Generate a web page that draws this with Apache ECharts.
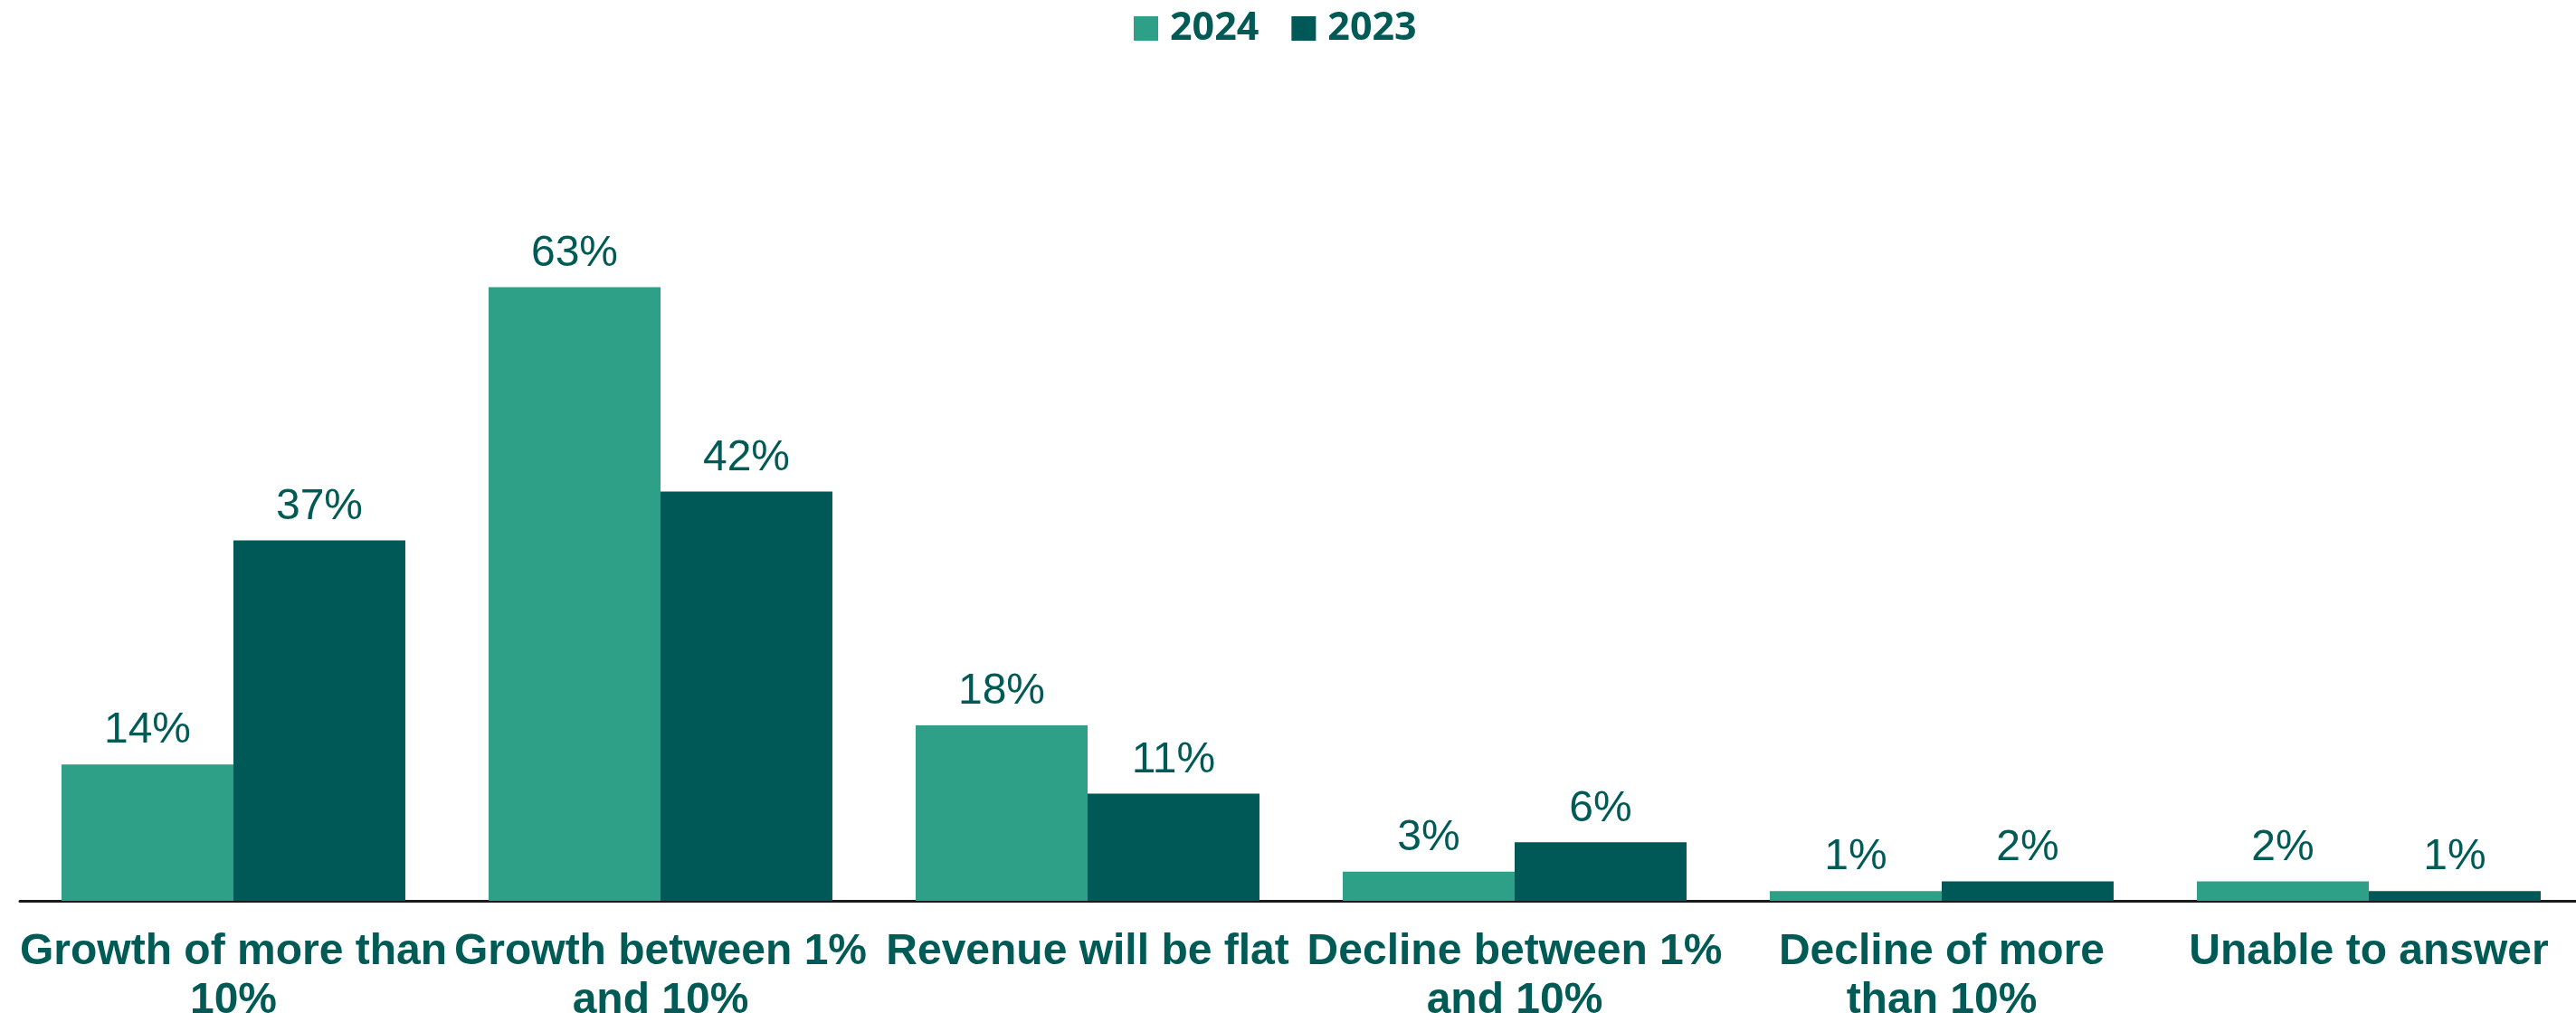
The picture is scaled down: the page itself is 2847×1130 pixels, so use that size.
<!DOCTYPE html>
<html>
<head>
<meta charset="utf-8">
<script src="https://cdn.jsdelivr.net/npm/echarts@6/dist/echarts.min.js"></script>
<style>
html,body{margin:0;padding:0;background:#fff;}
#chart{width:2847px;height:1130px;}
</style>
</head>
<body>
<div id="chart"></div>
<script>
const categories = [
  "Growth of more than\n10%",
  "Growth between 1%\nand 10%",
  "Revenue will be flat",
  "Decline between 1%\nand 10%",
  "Decline of more\nthan 10%",
  "Unable to answer"
];
const seriesNames = ["2024", "2023"];
const values2024 = [14, 63, 18, 3, 1, 2];
const values2023 = [37, 42, 11, 6, 2, 1];

const textColor = '#005a55';
const colors = ['#2ea088', '#005957'];

const chart = echarts.init(document.getElementById('chart'));
const labelStyle = {
  show: true,
  position: 'top',
  distance: 13,
  formatter: '{c}%',
  color: textColor,
  fontFamily: '"Liberation Sans", Arial, sans-serif',
  fontSize: 48,
  fontWeight: 'normal'
};
chart.setOption({
  animation: false,
  backgroundColor: '#fff',
  color: colors,
  legend: {
    top: 5,
    left: 1248,
    itemWidth: 27,
    itemHeight: 27,
    itemGap: 36,
    icon: 'rect',
    textStyle: {
      color: textColor,
      fontFamily: '"Open Sans", sans-serif',
      fontWeight: 'bold',
      fontSize: 43,
      padding: [0, 0, 0, 8]
    },
    data: seriesNames
  },
  grid: {
    left: 22,
    width: 2832,
    top: 242,
    bottom: 134,
    containLabel: false,
    outerBoundsMode: 'none'
  },
  xAxis: {
    type: 'category',
    data: categories,
    axisTick: { show: false },
    axisLine: { show: true, lineStyle: { color: '#1a1a1a', width: 3 } },
    axisLabel: {
      interval: 0,
      margin: 30,
      color: textColor,
      fontFamily: '"Liberation Sans", Arial, sans-serif',
      fontWeight: 'bold',
      fontSize: 48,
      lineHeight: 54
    }
  },
  yAxis: {
    type: 'value',
    min: 0,
    max: 70,
    interval: 10,
    show: false,
    splitLine: { show: false }
  },
  series: [
    {
      name: seriesNames[0],
      type: 'bar',
      data: values2024,
      barGap: '0%',
      barCategoryGap: '19.5%',
      itemStyle: { color: colors[0] },
      label: labelStyle
    },
    {
      name: seriesNames[1],
      type: 'bar',
      data: values2023,
      barGap: '0%',
      barCategoryGap: '19.5%',
      itemStyle: { color: colors[1] },
      label: labelStyle
    }
  ]
});
</script>
</body>
</html>
